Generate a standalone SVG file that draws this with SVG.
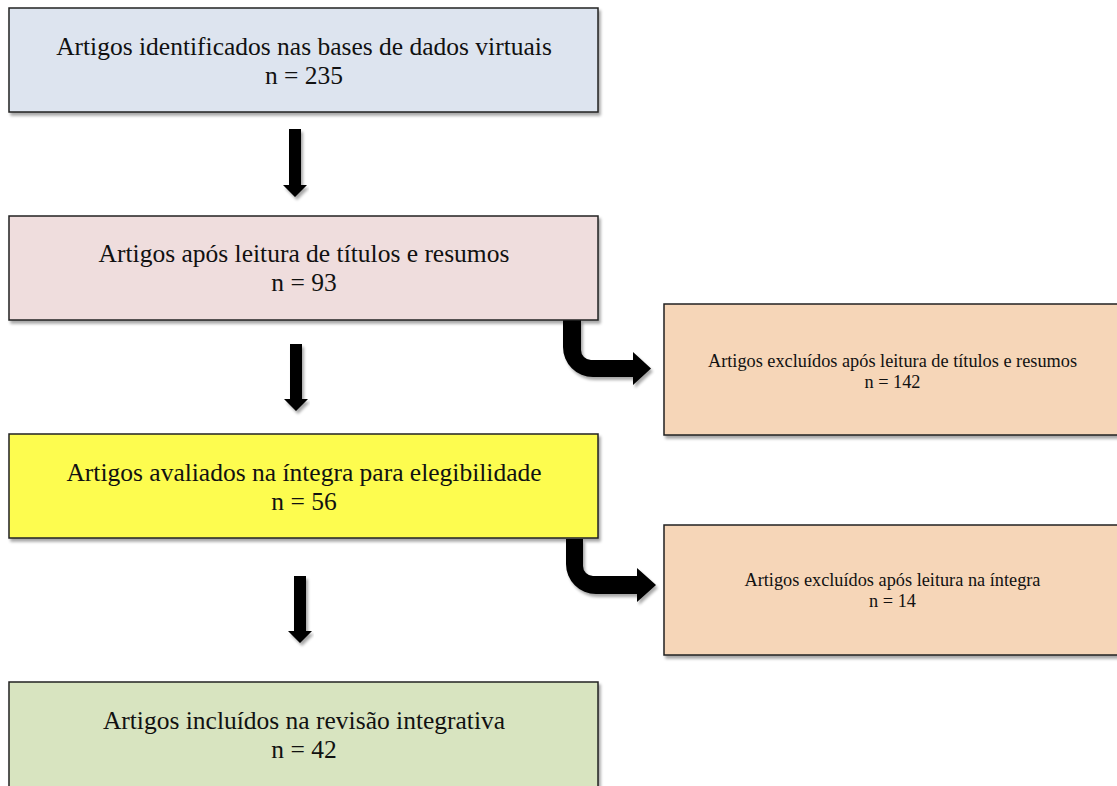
<svg xmlns="http://www.w3.org/2000/svg" width="1117" height="786" viewBox="0 0 1117 786">
<defs>
<filter id="sh" x="-5%" y="-10%" width="110%" height="130%">
<feGaussianBlur in="SourceAlpha" stdDeviation="1.5"/>
<feOffset dx="1.5" dy="2.5" result="b"/>
<feComponentTransfer><feFuncA type="linear" slope="0.35"/></feComponentTransfer>
<feMerge><feMergeNode/><feMergeNode in="SourceGraphic"/></feMerge>
</filter>
<style>
.box{stroke:#222;stroke-width:1.5;filter:url(#sh)}
.big{font-family:"Liberation Serif","Times New Roman",serif;font-size:25.5px;fill:#111;text-anchor:middle}
.small{font-family:"Liberation Serif","Times New Roman",serif;font-size:18.3px;fill:#111;text-anchor:middle}
.arr{fill:#000;filter:url(#sh)}
</style>
</defs>
<rect width="1117" height="786" fill="#fff"/>
<g id="connectors">
<polygon class="arr" points="289,129 301,129 301,185 307,185 295,197 283,185 289,185"/>
<polygon class="arr" points="290,344 302,344 302,399 308,399 296,411 284,399 290,399"/>
<polygon class="arr" points="294,576 306,576 306,631 312,631 300,643 288,631 294,631"/>
<path class="arr" d="M563,320 H581 V350 A10,10 0 0 0 591,360 H633 V352 L651,368.5 L633,385 V377 H593 A30,30 0 0 1 563,347 Z"/>
<path class="arr" d="M566,539 H583 V566 A10,10 0 0 0 593,576 H637 V568 L656,585 L637,602 V594 H596 A30,30 0 0 1 566,564 Z"/>
</g>
<g id="n1">
<rect class="box" x="9" y="8" width="589" height="104" fill="#dde4ef"/>
<text class="big" x="304" y="55">Artigos identificados nas bases de dados virtuais</text>
<text class="big" x="304" y="84">n = 235</text>
</g>
<g id="n2">
<rect class="box" x="9" y="216" width="589" height="104" fill="#efdddd"/>
<text class="big" x="304" y="262">Artigos após leitura de títulos e resumos</text>
<text class="big" x="304" y="291">n = 93</text>
</g>
<g id="n3">
<rect class="box" x="9" y="434" width="589" height="104" fill="#fdfc50"/>
<text class="big" x="304" y="481">Artigos avaliados na íntegra para elegibilidade</text>
<text class="big" x="304" y="510">n = 56</text>
</g>
<g id="n4">
<rect class="box" x="9" y="682" width="589" height="130" fill="#d8e4c0"/>
<text class="big" x="304" y="729">Artigos incluídos na revisão integrativa</text>
<text class="big" x="304" y="758">n = 42</text>
</g>
<g id="n5">
<rect class="box" x="664" y="304" width="460" height="131" fill="#f6d6b8"/>
<text class="small" x="892.5" y="367">Artigos excluídos após leitura de títulos e resumos</text>
<text class="small" x="892.5" y="388">n = 142</text>
</g>
<g id="n6">
<rect class="box" x="664" y="525" width="460" height="130" fill="#f6d6b8"/>
<text class="small" x="892.5" y="586">Artigos excluídos após leitura na íntegra</text>
<text class="small" x="892.5" y="607">n = 14</text>
</g>
</svg>
